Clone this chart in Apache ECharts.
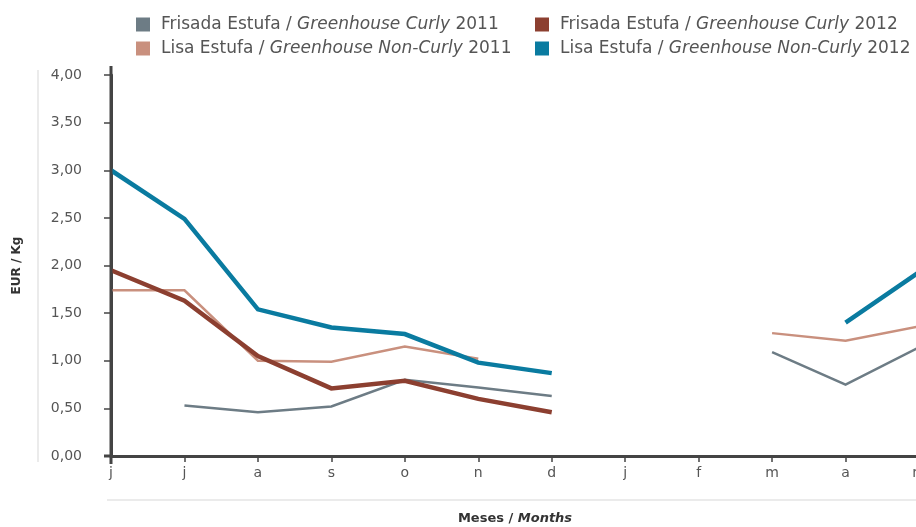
<!DOCTYPE html>
<html>
<head>
<meta charset="utf-8">
<script src="https://cdn.jsdelivr.net/npm/echarts@6/dist/echarts.min.js"></script>
<style>
  html, body { margin: 0; padding: 0; background: #fff; }
  #chart { width: 916px; height: 527px; }
</style>
</head>
<body>
<div id="chart"></div>
<script>
// meses jun..may
var months = ['j', 'j', 'a', 's', 'o', 'n', 'd', 'j', 'f', 'm', 'a', 'm'];
var yTicks = [0, 0.5, 1, 1.5, 2, 2.5, 3, 3.5, 4];

var frisada2011 = [null, 0.53, 0.46, 0.52, 0.80, 0.72, 0.63, null, null, 1.09, 0.75, 1.14];
var lisa2011    = [1.74, 1.74, 1.00, 0.99, 1.15, 1.02, null, null, null, 1.29, 1.21, 1.36];
var frisada2012 = [1.95, 1.63, 1.05, 0.71, 0.79, 0.60, 0.46, null, null, null, null, null];
var lisa2012    = [3.00, 2.49, 1.54, 1.35, 1.28, 0.98, 0.87, null, null, null, 1.40, 1.93];

var names = [
  'Frisada Estufa / Greenhouse Curly 2011',
  'Lisa Estufa / Greenhouse Non-Curly 2011',
  'Frisada Estufa / Greenhouse Curly 2012',
  'Lisa Estufa / Greenhouse Non-Curly 2012'
];
var colors = ['#6d7c85', '#c9907e', '#8c3f30', '#0a7ba0'];

var FONT = 'DejaVu Sans';
var chart = echarts.init(document.getElementById('chart'));

function legendFmt(name) {
  // "Frisada Estufa / Greenhouse Curly 2011" -> parte inglesa em itálico
  var p = name.split(' / ');
  var rest = p[1];
  var year = rest.slice(rest.lastIndexOf(' ') + 1);
  var en = rest.slice(0, rest.lastIndexOf(' '));
  return '{p|}{n|' + p[0] + ' / }{i|' + en + '}{n| ' + year + '}';
}

var legendText = {
  color: '#555',
  fontFamily: FONT,
  fontSize: 17,
  rich: {
    p: { width: 6 },
    n: { color: '#555', fontFamily: FONT, fontSize: 17 },
    i: { color: '#555', fontFamily: FONT, fontSize: 17, fontStyle: 'italic' }
  }
};

function mkSeries(i, data, width) {
  return {
    name: names[i],
    type: 'line',
    data: data,
    symbol: 'none',
    connectNulls: false,
    lineStyle: { color: colors[i], width: width, join: 'miter' },
    itemStyle: { color: colors[i] },
    emphasis: { disabled: true },
    z: width > 3 ? 3 : 2
  };
}

chart.setOption({
  animation: false,
  textStyle: { fontFamily: FONT },
  legend: [
    {
      data: [names[0], names[1]],
      orient: 'vertical',
      left: 136, top: 16, padding: 0,
      itemWidth: 14, itemHeight: 14, itemGap: 7,
      icon: 'rect',
      formatter: legendFmt,
      textStyle: legendText,
      selectedMode: false
    },
    {
      data: [names[2], names[3]],
      orient: 'vertical',
      left: 535, top: 16, padding: 0,
      itemWidth: 14, itemHeight: 14, itemGap: 7,
      icon: 'rect',
      formatter: legendFmt,
      textStyle: legendText,
      selectedMode: false
    }
  ],
  grid: { left: 111, top: 75, width: 808, height: 381, outerBoundsMode: 'none', containLabel: false },
  xAxis: {
    type: 'category',
    data: months,
    boundaryGap: false,
    name: '{b|Meses / }{bi|Months}',
    nameLocation: 'middle',
    nameGap: 56,
    nameTextStyle: {
      rich: {
        b: { fontWeight: 'bold', fontSize: 13, color: '#333', fontFamily: FONT },
        bi: { fontWeight: 'bold', fontStyle: 'italic', fontSize: 13, color: '#333', fontFamily: FONT }
      }
    },
    axisLine: { lineStyle: { color: '#444', width: 3 } },
    axisTick: { show: true, length: 6, alignWithLabel: true, lineStyle: { color: '#444', width: 1.5 } },
    axisLabel: { color: '#555', fontSize: 14, margin: 10, interval: 0 },
    splitLine: { show: false }
  },
  yAxis: {
    type: 'value',
    min: 0, max: 4, interval: 0.5,
    name: 'EUR / Kg',
    nameLocation: 'middle',
    nameGap: 88,
    nameTextStyle: { fontWeight: 'bold', fontSize: 12, color: '#333' },
    axisLine: { show: true, lineStyle: { color: '#444', width: 3 } },
    axisTick: { show: true, length: 7, lineStyle: { color: '#444', width: 1.5 } },
    axisLabel: {
      color: '#555', fontSize: 14, margin: 29,
      formatter: function (v) { return v.toFixed(2).replace('.', ','); }
    },
    splitLine: { show: false }
  },
  graphic: [
    { type: 'line', shape: { x1: 38, y1: 70, x2: 38, y2: 462 }, style: { stroke: '#ebebeb', lineWidth: 2 } },
    { type: 'line', shape: { x1: 107, y1: 500, x2: 916, y2: 500 }, style: { stroke: '#ebebeb', lineWidth: 2 } },
    { type: 'line', shape: { x1: 111, y1: 66, x2: 111, y2: 464 }, style: { stroke: '#444', lineWidth: 3 }, z: 10 },
    { type: 'line', shape: { x1: 104, y1: 456, x2: 112, y2: 456 }, style: { stroke: '#444', lineWidth: 3 }, z: 10 }
  ],
  series: [
    mkSeries(0, frisada2011, 2.5),
    mkSeries(1, lisa2011, 2.5),
    mkSeries(2, frisada2012, 4.5),
    mkSeries(3, lisa2012, 4.5)
  ]
});
</script>
</body>
</html>
